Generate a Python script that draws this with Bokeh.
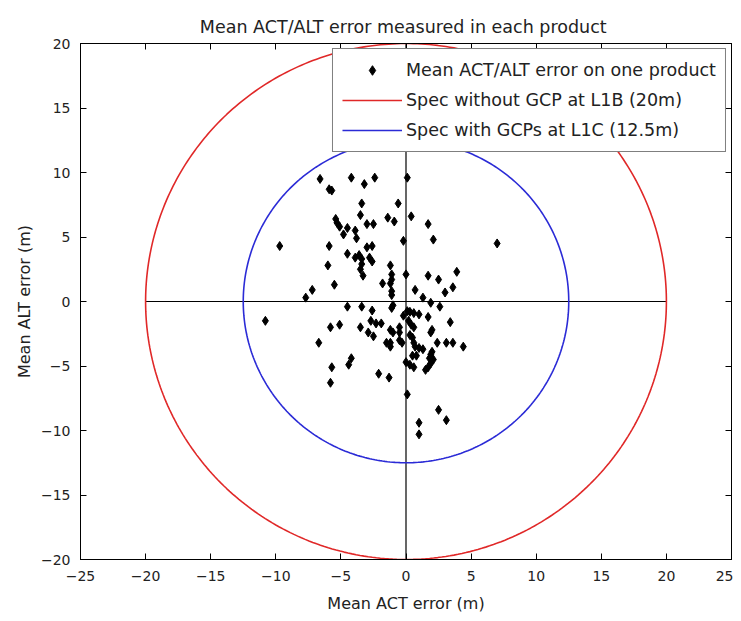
import numpy as np
from bokeh.plotting import figure
from bokeh.models import FixedTicker, LinearAxis, Legend, LegendItem, Range1d
from bokeh.embed import file_html
from bokeh.resources import INLINE

# ---- data ----
title_text = "Mean ACT/ALT error  measured in each product"
x_label = "Mean ACT error (m)"
y_label = "Mean ALT error (m)"
x_ticks = [-25, -20, -15, -10, -5, 0, 5, 10, 15, 20, 25]
y_ticks = [-20, -15, -10, -5, 0, 5, 10, 15, 20]

act_err = [
    -6.6, -5.9, -5.7, -4.2, -3.2, -2.4, 0.1, -3.4, -0.6, -3.5,
    -1.4, -0.9, -5.4, -5.3, -5.1, -3.0, -2.5, -4.5, -4.8, -3.9,
    -3.8, 0.4, 1.7, -0.2, 2.1, 7.0, -9.7, -5.9, -3.0, -2.6,
    -4.5, -3.9, -3.6, -3.4, -2.8, -2.6, -6.0, -3.4, -3.5, -1.2,
    -3.3, -1.1, -1.1, -1.2, -1.8, 0.0, 1.7, 2.5, 3.9, -5.5,
    -7.2, -7.7, -1.1, -1.1, 0.7, 3.6, 3.0, 1.3, 1.9, 2.6,
    -1.0, -1.1, -4.5, -3.4, -2.6, 0.1, 0.3, 0.6, 1.0, -0.2,
    1.7, 3.4, -10.8, -2.7, -2.3, -1.9, 0.2, 0.4, 0.6, -5.8,
    -5.1, -3.5, -2.9, -1.2, -1.0, -0.5, -0.5, 2.0, 1.9, -2.5,
    0.3, 0.5, 0.6, -6.7, -1.5, -1.2, -1.2, -0.5, -0.3, 2.4,
    3.1, 3.6, 4.4, 0.7, 1.0, 1.3, 2.0, 1.9, 1.8, 0.5,
    0.8, 0.0, 0.3, 2.1, 1.9, 1.7, 1.5, 0.6, -4.2, -4.4,
    -5.7, -2.1, -1.3, -5.8, 0.1, 2.5, 3.1, 1.0, 1.0,
]
alt_err = [
    9.5, 8.7, 8.6, 9.6, 9.1, 9.6, 9.6, 7.6, 7.6, 6.7,
    6.5, 6.2, 6.4, 6.1, 5.8, 6.0, 6.0, 5.7, 5.2, 5.5,
    4.9, 6.6, 6.0, 4.7, 4.8, 4.5, 4.3, 4.3, 4.2, 4.3,
    3.7, 3.4, 3.6, 3.3, 3.4, 3.1, 2.8, 2.9, 2.5, 2.8,
    2.0, 2.1, 1.7, 1.4, 1.4, 2.1, 2.0, 1.7, 2.3, 1.3,
    0.9, 0.3, 0.8, 0.5, 0.9, 1.1, 0.7, 0.3, -0.1, -0.4,
    -0.3, -0.5, -0.4, -0.4, -0.7, -0.75, -0.8, -0.9, -1.0, -1.1,
    -1.2, -1.6, -1.5, -1.5, -1.7, -1.7, -1.5, -1.8, -2.0, -2.0,
    -1.8, -2.0, -2.4, -2.2, -2.4, -2.0, -2.4, -2.2, -2.4, -2.7,
    -2.6, -2.8, -3.2, -3.2, -3.2, -3.2, -3.5, -3.0, -3.2, -3.2,
    -3.2, -3.2, -3.5, -3.5, -3.6, -3.7, -3.9, -4.1, -4.4, -4.2,
    -4.2, -4.7, -4.9, -4.5, -4.8, -5.1, -5.3, -5.1, -4.4, -4.9,
    -5.1, -5.6, -5.9, -6.3, -7.2, -8.4, -9.2, -9.4, -10.3,
]

spec_labels = ["Spec without GCP at L1B (20m)", "Spec with GCPs at L1C (12.5m)"]
spec_radii = [20.0, 12.5]
spec_colors = ["#e02828", "#2b2bd6"]
point_label = "Mean ACT/ALT error on one product"

FONT = "DejaVu Sans"

p = figure(
    width=733, height=617,
    x_range=Range1d(-25, 25), y_range=Range1d(-20, 20),
    output_backend="svg", toolbar_location=None,
    min_border_left=80, min_border_right=2,
    min_border_top=43, min_border_bottom=58,
    title=title_text,
)
p.title.align = "center"
p.title.text_font = FONT
p.title.text_font_size = "17.5px"
p.title.text_font_style = "normal"
p.title.text_color = "#222222"
p.title.standoff = 14

p.xgrid.visible = False
p.ygrid.visible = False
p.outline_line_color = "black"
p.outline_line_width = 1
p.background_fill_color = "white"
p.border_fill_color = "white"

def style_axis(ax, ticks, show_labels):
    ax.ticker = FixedTicker(ticks=ticks)
    ax.major_tick_in = 6
    ax.major_tick_out = 0
    ax.minor_tick_line_color = None
    ax.axis_line_color = "black"
    ax.major_tick_line_color = "black"
    ax.major_label_text_font = FONT
    ax.major_label_text_font_size = "14px"
    ax.major_label_text_color = "#222222"
    if not show_labels:
        ax.major_label_overrides = {t: "" for t in ticks}
        ax.major_label_text_font_size = "1px"
        ax.major_label_standoff = 0

style_axis(p.xaxis[0], x_ticks, True)
style_axis(p.yaxis[0], y_ticks, True)
p.xaxis[0].major_label_standoff = 11
p.yaxis[0].major_label_standoff = 10
p.xaxis[0].axis_label = x_label
p.yaxis[0].axis_label = y_label
for ax in (p.xaxis[0], p.yaxis[0]):
    ax.axis_label_text_font = FONT
    ax.axis_label_text_font_size = "16px"
    ax.axis_label_text_font_style = "normal"
    ax.axis_label_text_color = "#222222"
p.xaxis[0].axis_label_standoff = 10
p.yaxis[0].axis_label_standoff = 4

top_ax = LinearAxis()
style_axis(top_ax, x_ticks, False)
p.add_layout(top_ax, "above")
right_ax = LinearAxis()
style_axis(right_ax, y_ticks, False)
p.add_layout(right_ax, "right")

# cross-hair lines through the origin
R = spec_radii[0]
p.line([-R, R], [0, 0], line_color="black", line_width=1.2)
p.line([0, 0], [-R, R], line_color="black", line_width=1.2)

theta = np.linspace(0, 2 * np.pi, 400)
spec_renderers = []
for r, c in zip(spec_radii, spec_colors):
    spec_renderers.append(
        p.line(r * np.cos(theta), r * np.sin(theta), line_color=c, line_width=1.6)
    )

pts = p.scatter(act_err, alt_err, marker="diamond", size=9,
                fill_color="black", line_color="black")

legend = Legend(items=[
    LegendItem(label=point_label, renderers=[pts]),
    LegendItem(label=spec_labels[0], renderers=[spec_renderers[0]]),
    LegendItem(label=spec_labels[1], renderers=[spec_renderers[1]]),
])
legend.location = "top_right"
legend.margin = 5
legend.padding = 9
legend.spacing = 6
legend.glyph_width = 60
legend.glyph_height = 24
legend.label_height = 24
legend.label_standoff = 4
legend.label_text_font = FONT
legend.label_text_font_size = "17.5px"
legend.label_text_color = "#222222"
legend.border_line_color = "black"
legend.border_line_width = 1
legend.background_fill_color = "white"
legend.background_fill_alpha = 1.0
p.add_layout(legend)

open("out.html", "w").write(file_html(p, INLINE))
